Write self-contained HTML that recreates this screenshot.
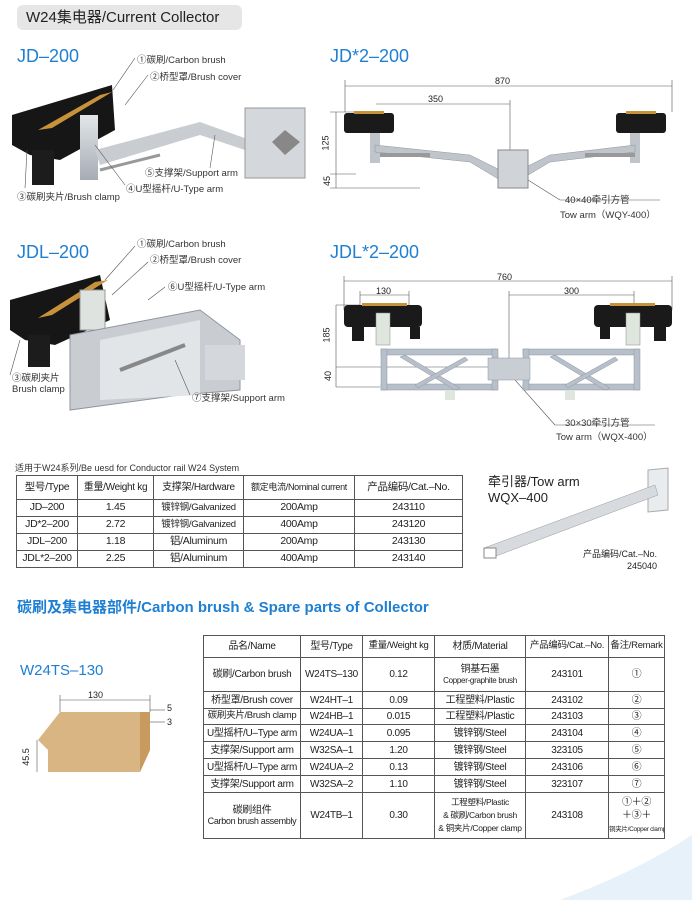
<!DOCTYPE html>
<html><head><meta charset="utf-8"><style>
*{margin:0;padding:0;box-sizing:border-box}
body{width:692px;height:900px;background:#fff;position:relative;overflow:hidden;font-family:"Liberation Sans","Noto Sans CJK SC",sans-serif;color:#222}
.a{position:absolute;white-space:nowrap}
.blue{color:#1f7fd3;font-size:18px}
.s{font-size:9.5px;color:#333}
table{position:absolute;border-collapse:collapse;table-layout:fixed;color:#222}
td{border:1px solid #555;text-align:center;padding:0;line-height:1.1;white-space:nowrap;overflow:hidden;letter-spacing:-0.3px}
</style></head><body>
<div class="a" style="left:17px;top:5px;width:225px;height:25px;background:#e6e6e6;border-radius:6px;font-size:15px;line-height:25px;padding-left:9px;color:#222">W24集电器/Current Collector</div>
<div class="a blue" style="left:17px;top:46px">JD–200</div>
<div class="a blue" style="left:330px;top:46px">JD*2–200</div>
<div class="a blue" style="left:17px;top:242px">JDL–200</div>
<div class="a blue" style="left:330px;top:242px">JDL*2–200</div>

<svg class="a" style="left:0;top:0" width="692" height="900">
<defs><linearGradient id="m" x1="0" y1="0" x2="0" y2="1"><stop offset="0" stop-color="#e3e6e9"/><stop offset="1" stop-color="#a5acb4"/></linearGradient></defs>
<g>
<path d="M12 115 L112 85 L115 130 L60 160 L30 155 L12 145Z" fill="#161616"/>
<path d="M38 130 L100 95 L112 92 L52 128Z" fill="#c8923a"/>
<rect x="32" y="150" width="22" height="35" fill="#1c1c1c"/>
<rect x="80" y="115" width="18" height="65" fill="url(#m)"/>
<path d="M95 150 L200 122 L250 140 L245 150 L200 135 L100 165Z" fill="#c9cdd1"/>
<rect x="245" y="108" width="60" height="70" fill="#d4d8dc" stroke="#999"/>
<path d="M285 130 L300 142 L285 155 L272 142Z" fill="#888"/>
<line x1="100" y1="170" x2="160" y2="155" stroke="#999" stroke-width="3"/>
<g stroke="#555" stroke-width="0.6" fill="none">
<line x1="113" y1="90" x2="135" y2="58"/><line x1="125" y1="105" x2="148" y2="75"/>
<line x1="25" y1="188" x2="27" y2="150"/><line x1="125" y1="185" x2="95" y2="145"/><line x1="210" y1="168" x2="215" y2="135"/></g>
</g>
<g stroke="#555" stroke-width="0.6" fill="none">
<line x1="345" y1="86" x2="672" y2="86"/><line x1="345" y1="80" x2="345" y2="112"/><line x1="672" y1="80" x2="672" y2="112"/>
<line x1="376" y1="104" x2="510" y2="104"/><line x1="510" y1="100" x2="510" y2="160"/>
<line x1="330" y1="112" x2="356" y2="112"/><line x1="330" y1="174" x2="356" y2="174"/><line x1="330" y1="188" x2="420" y2="188"/>
<line x1="336" y1="112" x2="336" y2="188"/>
<line x1="520" y1="175" x2="560" y2="200"/><line x1="560" y1="200" x2="660" y2="200"/></g>
<g>
<rect x="344" y="113" width="50" height="20" rx="3" fill="#1a1a1a"/><rect x="354" y="111" width="30" height="3" fill="#c8923a"/>
<rect x="616" y="113" width="50" height="20" rx="3" fill="#1a1a1a"/><rect x="626" y="111" width="30" height="3" fill="#c8923a"/>
<rect x="370" y="133" width="10" height="30" fill="#bfc5cb"/><rect x="630" y="133" width="10" height="30" fill="#bfc5cb"/>
<path d="M375 145 L470 155 L500 170 L520 170 L550 155 L635 145 L635 152 L550 162 L520 180 L500 180 L470 162 L375 152Z" fill="#bfc5cb" stroke="#8d969f" stroke-width="0.5"/>
<rect x="498" y="150" width="30" height="38" fill="#d0d4d8" stroke="#888"/>
<rect x="380" y="153" width="50" height="4" fill="#999"/><rect x="585" y="153" width="50" height="4" fill="#999"/>
</g>
<g>
<path d="M10 300 L100 275 L110 320 L55 345 L25 340 L10 330Z" fill="#161616"/>
<path d="M38 318 L95 282 L108 280 L52 315Z" fill="#c8923a"/>
<rect x="28" y="335" width="22" height="32" fill="#1c1c1c"/>
<rect x="80" y="290" width="25" height="40" fill="#dfe3e0" stroke="#999"/>
<path d="M70 335 L200 310 L240 340 L240 390 L180 395 L70 410Z" fill="#c9cdd1" stroke="#8d969f"/>
<path d="M100 340 L200 320 L200 395 L100 400Z" fill="#e2e5e8"/>
<line x1="120" y1="370" x2="185" y2="345" stroke="#888" stroke-width="4"/>
<rect x="205" y="345" width="40" height="35" fill="#d4d8dc"/>
<g stroke="#555" stroke-width="0.6" fill="none">
<line x1="105" y1="280" x2="135" y2="246"/><line x1="112" y1="295" x2="148" y2="262"/><line x1="148" y1="300" x2="165" y2="287"/>
<line x1="10" y1="375" x2="20" y2="340"/><line x1="190" y1="395" x2="175" y2="360"/></g>
</g>
<g stroke="#555" stroke-width="0.6" fill="none">
<line x1="344" y1="281" x2="672" y2="281"/><line x1="344" y1="276" x2="344" y2="310"/><line x1="672" y1="276" x2="672" y2="310"/>
<line x1="360" y1="295" x2="409" y2="295"/><line x1="360" y1="291" x2="360" y2="305"/><line x1="409" y1="291" x2="409" y2="305"/>
<line x1="509" y1="295" x2="634" y2="295"/><line x1="509" y1="291" x2="509" y2="370"/><line x1="634" y1="291" x2="634" y2="305"/>
<line x1="336" y1="305" x2="360" y2="305"/><line x1="336" y1="367" x2="500" y2="367"/><line x1="336" y1="387" x2="380" y2="387"/>
<line x1="336" y1="305" x2="336" y2="387"/>
<line x1="515" y1="380" x2="555" y2="425"/><line x1="555" y1="425" x2="655" y2="425"/></g>
<g>
<rect x="344" y="305" width="78" height="22" rx="4" fill="#1a1a1a"/><rect x="352" y="327" width="12" height="14" fill="#1a1a1a"/><rect x="410" y="327" width="10" height="12" fill="#1a1a1a"/><rect x="362" y="303" width="45" height="3" fill="#c8923a"/>
<rect x="594" y="305" width="78" height="22" rx="4" fill="#1a1a1a"/><rect x="654" y="327" width="12" height="14" fill="#1a1a1a"/><rect x="600" y="327" width="10" height="12" fill="#1a1a1a"/><rect x="610" y="303" width="45" height="3" fill="#c8923a"/>
<rect x="376" y="313" width="14" height="32" fill="#dfe6dd" stroke="#888" stroke-width="0.5"/><rect x="626" y="313" width="14" height="32" fill="#dfe6dd" stroke="#888" stroke-width="0.5"/>
<g fill="#b7c0ca" stroke="#8d969f" stroke-width="0.5">
<rect x="381" y="349" width="116" height="6"/><rect x="381" y="384" width="116" height="6"/><rect x="381" y="349" width="6" height="41"/><rect x="492" y="349" width="6" height="41"/>
<rect x="523" y="349" width="116" height="6"/><rect x="523" y="384" width="116" height="6"/><rect x="523" y="349" width="6" height="41"/><rect x="634" y="349" width="6" height="41"/>
<path d="M405 355 L460 388 L455 390 L400 357Z"/><path d="M415 385 L465 357 L468 360 L418 388Z"/>
<path d="M555 355 L610 388 L605 390 L550 357Z"/><path d="M565 385 L615 357 L618 360 L568 388Z"/>
<rect x="488" y="358" width="42" height="22" fill="#c8ced4"/></g>
<rect x="445" y="390" width="10" height="10" fill="#dfe6dd"/><rect x="565" y="390" width="10" height="10" fill="#dfe6dd"/>
</g>
<g><path d="M648 470 L668 468 L668 510 L648 512Z" fill="#e9ecee" stroke="#aaa"/>
<path d="M484 548 L655 485 L658 495 L496 556Z" fill="#d7dbdf" stroke="#999" stroke-width="0.5"/>
<rect x="484" y="548" width="12" height="10" fill="#fff" stroke="#888"/></g>
<g>
<path d="M38 740 L60 712 L150 712 L150 750 L140 772 L48 772 L48 750Z" fill="#d8b582"/>
<path d="M140 712 L150 712 L150 750 L140 772Z" fill="#c89a5e"/>
<g stroke="#555" stroke-width="0.6" fill="none"><line x1="60" y1="700" x2="150" y2="700"/><line x1="60" y1="695" x2="60" y2="712"/><line x1="150" y1="695" x2="150" y2="712"/>
<line x1="37" y1="740" x2="37" y2="772"/><line x1="150" y1="710" x2="165" y2="710"/><line x1="150" y1="722" x2="165" y2="722"/></g>
</g>
<path d="M560 900 Q640 870 692 835 L692 900Z" fill="#e6f1fa"/>
</svg>

<div class="a s" style="left:137px;top:52px">①碳刷/Carbon brush</div>
<div class="a s" style="left:150px;top:69px">②桥型罩/Brush cover</div>
<div class="a s" style="left:145px;top:165px">⑤支撑架/Support arm</div>
<div class="a s" style="left:126px;top:181px">④U型摇杆/U-Type arm</div>
<div class="a s" style="left:17px;top:189px">③碳刷夹片/Brush clamp</div>
<div class="a" style="left:495px;top:76px;font-size:9px">870</div>
<div class="a" style="left:428px;top:94px;font-size:9px">350</div>
<div class="a" style="left:318px;top:138px;font-size:9px;transform:rotate(-90deg)">125</div>
<div class="a" style="left:322px;top:176px;font-size:9px;transform:rotate(-90deg)">45</div>
<div class="a s" style="left:565px;top:192px">40×40牵引方管</div>
<div class="a s" style="left:560px;top:207px">Tow arm（WQY-400）</div>

<div class="a s" style="left:137px;top:236px">①碳刷/Carbon brush</div>
<div class="a s" style="left:150px;top:252px">②桥型罩/Brush cover</div>
<div class="a s" style="left:168px;top:279px">⑥U型摇杆/U-Type arm</div>
<div class="a s" style="left:12px;top:370px">③碳刷夹片<br>Brush clamp</div>
<div class="a s" style="left:192px;top:390px">⑦支撑架/Support arm</div>
<div class="a" style="left:497px;top:272px;font-size:9px">760</div>
<div class="a" style="left:376px;top:286px;font-size:9px">130</div>
<div class="a" style="left:564px;top:286px;font-size:9px">300</div>
<div class="a" style="left:319px;top:330px;font-size:9px;transform:rotate(-90deg)">185</div>
<div class="a" style="left:323px;top:371px;font-size:9px;transform:rotate(-90deg)">40</div>
<div class="a s" style="left:565px;top:415px">30×30牵引方管</div>
<div class="a s" style="left:556px;top:429px">Tow arm（WQX-400）</div>

<div class="a" style="left:15px;top:461px;font-size:9px;color:#333">适用于W24系列/Be uesd for Conductor rail W24 System</div>
<table style="left:16px;top:475px;width:447px;font-size:10.5px">
<colgroup><col style="width:61px"><col style="width:76px"><col style="width:90px"><col style="width:111px"><col></colgroup>
<tr style="height:24px"><td>型号/Type</td><td style="font-size:10px">重量/Weight kg</td><td style="font-size:10px">支撑架/Hardware</td><td style="font-size:9px">额定电流/Nominal current</td><td>产品编码/Cat.–No.</td></tr>
<tr style="height:17px"><td>JD–200</td><td>1.45</td><td style="font-size:9.5px">镀锌钢/Galvanized</td><td>200Amp</td><td>243110</td></tr>
<tr style="height:17px"><td>JD*2–200</td><td>2.72</td><td style="font-size:9.5px">镀锌钢/Galvanized</td><td>400Amp</td><td>243120</td></tr>
<tr style="height:17px"><td>JDL–200</td><td>1.18</td><td>铝/Aluminum</td><td>200Amp</td><td>243130</td></tr>
<tr style="height:17px"><td>JDL*2–200</td><td>2.25</td><td>铝/Aluminum</td><td>400Amp</td><td>243140</td></tr>
</table>
<div class="a" style="left:488px;top:474px;font-size:13px;line-height:16px">牵引器/Tow arm<br>WQX–400</div>
<div class="a" style="left:583px;top:548px;font-size:9px;text-align:right;line-height:12px">产品编码/Cat.–No.<br><span style="padding-left:32px">245040</span></div>

<div class="a" style="left:17px;top:596px;font-size:15px;font-weight:bold;color:#1f7fd3">碳刷及集电器部件/Carbon brush &amp; Spare parts of Collector</div>
<div class="a" style="left:20px;top:662px;font-size:15px;color:#1f7fd3">W24TS–130</div>
<div class="a" style="left:88px;top:690px;font-size:9px">130</div>
<div class="a" style="left:167px;top:703px;font-size:9px">5</div>
<div class="a" style="left:167px;top:717px;font-size:9px">3</div>
<div class="a" style="left:17px;top:752px;font-size:9px;transform:rotate(-90deg)">45.5</div>

<table style="left:203px;top:635px;width:462px;font-size:10px">
<colgroup><col style="width:97px"><col style="width:62px"><col style="width:72px"><col style="width:91px"><col style="width:83px"><col></colgroup>
<tr style="height:22px"><td>品名/Name</td><td>型号/Type</td><td style="font-size:9.5px">重量/Weight kg</td><td>材质/Material</td><td style="font-size:9.5px">产品编码/Cat.–No.</td><td style="font-size:9.5px">备注/Remark</td></tr>
<tr style="height:34px"><td>碳刷/Carbon brush</td><td>W24TS–130</td><td>0.12</td><td>铜基石墨<br><span style="font-size:8px">Copper-graphite brush</span></td><td>243101</td><td>①</td></tr>
<tr style="height:17px"><td>桥型罩/Brush cover</td><td>W24HT–1</td><td>0.09</td><td>工程塑料/Plastic</td><td>243102</td><td>②</td></tr>
<tr style="height:16px"><td style="font-size:9.5px">碳刷夹片/Brush clamp</td><td>W24HB–1</td><td>0.015</td><td>工程塑料/Plastic</td><td>243103</td><td>③</td></tr>
<tr style="height:17px"><td>U型摇杆/U–Type arm</td><td>W24UA–1</td><td>0.095</td><td>镀锌钢/Steel</td><td>243104</td><td>④</td></tr>
<tr style="height:17px"><td>支撑架/Support arm</td><td>W32SA–1</td><td>1.20</td><td>镀锌钢/Steel</td><td>323105</td><td>⑤</td></tr>
<tr style="height:17px"><td>U型摇杆/U–Type arm</td><td>W24UA–2</td><td>0.13</td><td>镀锌钢/Steel</td><td>243106</td><td>⑥</td></tr>
<tr style="height:17px"><td>支撑架/Support arm</td><td>W32SA–2</td><td>1.10</td><td>镀锌钢/Steel</td><td>323107</td><td>⑦</td></tr>
<tr style="height:46px"><td>碳刷组件<br><span style="font-size:9px">Carbon brush assembly</span></td><td>W24TB–1</td><td>0.30</td><td style="font-size:8.5px;line-height:13px">工程塑料/Plastic<br>&amp; 碳刷/Carbon brush<br>&amp; 铜夹片/Copper clamp</td><td>243108</td><td style="line-height:13px">①＋②<br>＋③＋<br><span style="font-size:6.5px">铜夹片/Copper clamp</span></td></tr>
</table>
</body></html>
